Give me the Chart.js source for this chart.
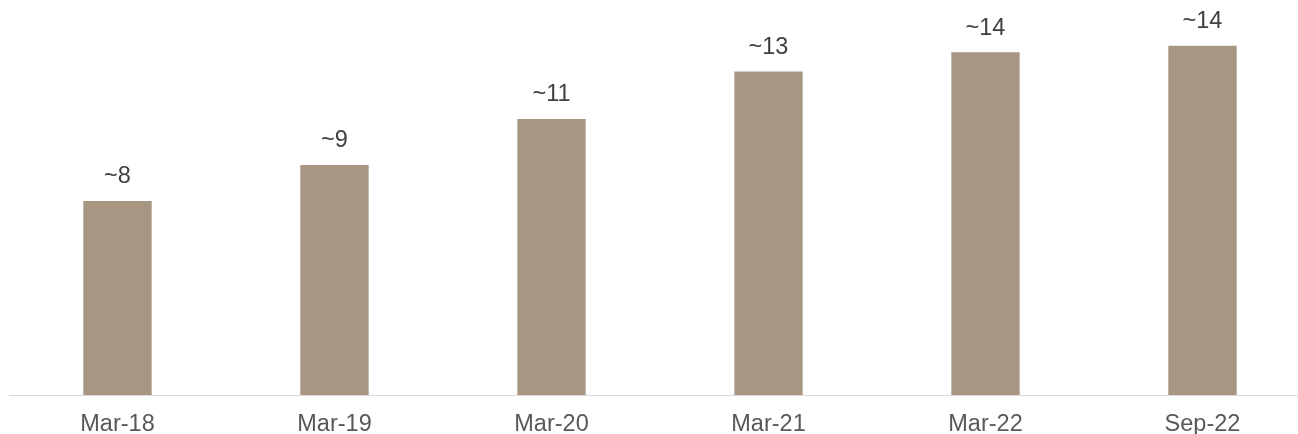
<!DOCTYPE html>
<html>
<head>
<meta charset="utf-8">
<script src="https://cdn.jsdelivr.net/npm/chart.js@4.4.1/dist/chart.umd.min.js"></script>
<style>
  html, body { margin: 0; padding: 0; background: #ffffff; overflow: hidden; width: 1298px; height: 434px; }
  #wrap { position: absolute; left: 0; top: 0; width: 1312px; height: 434px; }
</style>
</head>
<body>
<div id="wrap"><canvas id="c"></canvas></div>
<script>
const categories = ["Mar-18", "Mar-19", "Mar-20", "Mar-21", "Mar-22", "Sep-22"];
const values = [7.92, 9.39, 11.27, 13.2, 13.99, 14.26];
const valueLabels = ["~8", "~9", "~11", "~13", "~14", "~14"];

const FONT = "'Liberation Sans', Arial, sans-serif";

const dataLabelPlugin = {
  id: 'dataLabels',
  afterDatasetsDraw(chart) {
    const ctx = chart.ctx;
    const meta = chart.getDatasetMeta(0);
    ctx.save();
    ctx.font = "23.5px " + FONT;
    ctx.fillStyle = "#404040";
    ctx.textAlign = "center";
    ctx.textBaseline = "alphabetic";
    meta.data.forEach((bar, i) => {
      ctx.fillText(valueLabels[i], bar.x, bar.y - 17.5);
    });
    ctx.restore();
  }
};

new Chart(document.getElementById('c'), {
  type: 'bar',
  data: {
    labels: categories,
    datasets: [{
      data: values,
      backgroundColor: '#A69682',
      borderWidth: 0,
      categoryPercentage: 1.0,
      barPercentage: 0.315
    }]
  },
  options: {
    responsive: true,
    maintainAspectRatio: false,
    animation: false,
    devicePixelRatio: 1,
    layout: { padding: { left: 9, right: 1, top: 3, bottom: 0 } },
    plugins: { legend: { display: false }, tooltip: { enabled: false } },
    scales: {
      x: {
        grid: { display: false, drawTicks: false },
        border: { display: true, color: '#D9D9D9', width: 1 },
        ticks: {
          color: '#595959',
          font: { family: FONT, size: 23.5 },
          padding: 15.3,
          maxRotation: 0,
          autoSkip: false
        },
        afterFit: (s) => { s.height = 39; }
      },
      y: {
        display: false,
        min: 0,
        max: 16
      }
    }
  },
  plugins: [dataLabelPlugin]
});
</script>
</body>
</html>
